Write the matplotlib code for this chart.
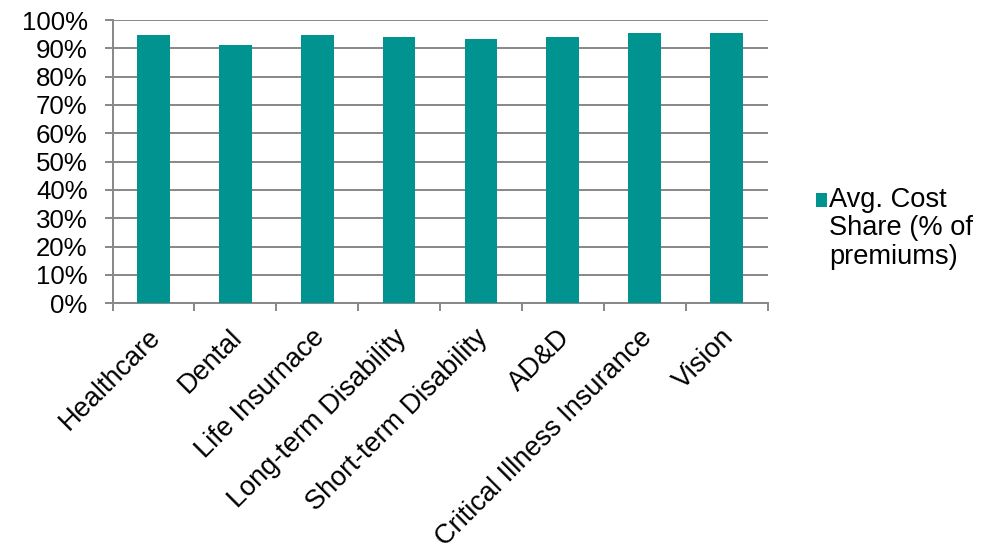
import matplotlib
matplotlib.use("Agg")
import matplotlib.pyplot as plt
from matplotlib.ticker import FixedLocator, PercentFormatter
from matplotlib.transforms import ScaledTranslation

plt.rcParams['font.family'] = ['Liberation Sans', 'DejaVu Sans']

categories = ["Healthcare", "Dental", "Life Insurnace", "Long-term Disability",
              "Short-term Disability", "AD&D", "Critical Illness Insurance", "Vision"]
cost_share = [94.6, 91.2, 94.6, 93.9, 93.2, 94.1, 95.4, 95.4]
series_label = "Avg. Cost\nShare (% of\npremiums)"

bar_color = "#00938F"
grid_color = "#878787"

fig = plt.figure(figsize=(9.96, 5.51), dpi=100)
ax = fig.add_axes([0.1130, 0.4495, 0.6576, 0.5142])

x = list(range(len(categories)))
ax.bar(x, cost_share, width=0.4, color=bar_color, label=series_label, zorder=3)

ax.set_xlim(-0.5, len(categories) - 0.5)
ax.set_ylim(0, 100)
ax.set_yticks(range(0, 101, 10))
ax.yaxis.set_major_formatter(PercentFormatter(decimals=0))
ax.grid(axis='y', color=grid_color, linewidth=1.4, zorder=0)

# category boundaries carry the x tick marks; labels sit at bar centres
ax.xaxis.set_major_locator(FixedLocator([i - 0.5 for i in range(len(categories) + 1)]))
ax.xaxis.set_major_formatter(plt.NullFormatter())
ax.xaxis.set_minor_locator(FixedLocator(x))
ax.set_xticklabels(categories, minor=True, rotation=45, ha='right',
                   rotation_mode='anchor', fontsize=19.5)
ax.tick_params(axis='x', which='minor', length=0, pad=13)
ax.tick_params(axis='x', which='major', length=6, width=1.4, color=grid_color)
ax.tick_params(axis='y', length=6, width=1.4, color=grid_color, labelsize=18.6, pad=12)

# nudge the slanted category labels a little left and down
nudge = ScaledTranslation(-6 / 100, -3 / 100, fig.dpi_scale_trans)
for lbl in ax.get_xticklabels(minor=True):
    lbl.set_transform(lbl.get_transform() + nudge)

for side in ('top', 'right'):
    ax.spines[side].set_visible(False)
for side in ('left', 'bottom'):
    ax.spines[side].set_color(grid_color)
    ax.spines[side].set_linewidth(1.4)

leg_fs = 19.6
leg = fig.legend(loc='upper left', bbox_to_anchor=(0.8193, 0.661), frameon=False,
                 fontsize=leg_fs, handlelength=0.42, handleheight=0.42,
                 handletextpad=0.06, borderaxespad=0, borderpad=0)
label_text = leg.get_texts()[0]
label_text.set_linespacing(1.12)
# keep the colour key level with the first line of the wrapped label
line_step = leg_fs * 1.12 - 1.5
key = leg.get_patches()[0]
key.set_y(key.get_y() + line_step)

fig.savefig("out.png", dpi=100)
